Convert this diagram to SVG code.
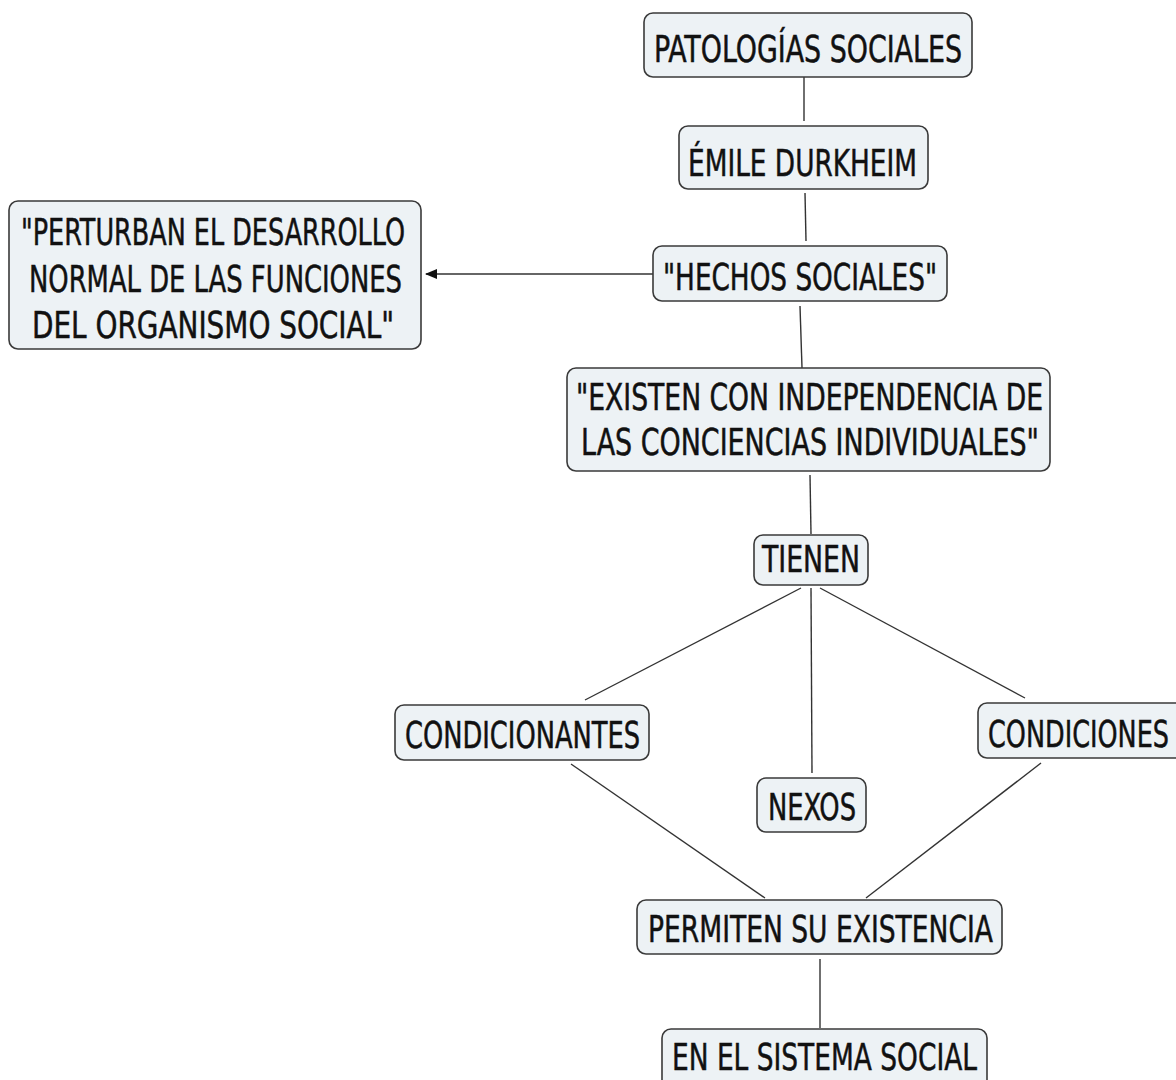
<svg xmlns="http://www.w3.org/2000/svg" width="1176" height="1080" viewBox="0 0 1176 1080">
<style>
.box{fill:#edf2f5;stroke:#3a3a3a;stroke-width:1.6}
.t{font-family:"DejaVu Sans Condensed","DejaVu Sans","Liberation Sans",sans-serif;font-size:38px;fill:#111;stroke:#111;stroke-width:0.5}
.c{stroke:#333;stroke-width:1.4;fill:none}
</style>
<defs>
<marker id="arr" viewBox="0 0 12 12" refX="11" refY="6" markerWidth="12" markerHeight="12" markerUnits="userSpaceOnUse" orient="auto">
<path d="M0,1 L12,6 L0,11 Z" fill="#111"/>
</marker>
</defs>
<rect width="1176" height="1080" fill="#fff"/>
<g id="connectors">
<line class="c" x1="804" y1="77" x2="804" y2="121"/>
<line class="c" x1="805" y1="193" x2="806" y2="241"/>
<line class="c" x1="800" y1="306" x2="802" y2="368"/>
<line class="c" x1="653" y1="274" x2="426" y2="274" marker-end="url(#arr)"/>
<line class="c" x1="810" y1="475" x2="811" y2="534"/>
<line class="c" x1="801" y1="588" x2="585" y2="700"/>
<line class="c" x1="811" y1="588" x2="812" y2="773"/>
<line class="c" x1="820" y1="588" x2="1025" y2="698"/>
<line class="c" x1="571" y1="764" x2="765" y2="898"/>
<line class="c" x1="1041" y1="763" x2="866" y2="898"/>
<line class="c" x1="820" y1="959" x2="820" y2="1028"/>
</g>
<g id="n_patologias">
<rect class="box" x="644" y="13" width="328" height="64" rx="9"/>
<text class="t" x="654" y="62" textLength="308" lengthAdjust="spacingAndGlyphs">PATOLOGÍAS SOCIALES</text>
</g>
<g id="n_durkheim">
<rect class="box" x="679" y="126" width="249" height="63" rx="9"/>
<text class="t" x="688" y="176" textLength="229" lengthAdjust="spacingAndGlyphs">ÉMILE DURKHEIM</text>
</g>
<g id="n_hechos">
<rect class="box" x="653" y="246" width="294" height="55" rx="9"/>
<text class="t" x="663" y="290" textLength="274" lengthAdjust="spacingAndGlyphs">"HECHOS SOCIALES"</text>
</g>
<g id="n_perturban">
<rect class="box" x="9" y="201" width="412" height="148" rx="9"/>
<text class="t" x="21" y="245" textLength="384" lengthAdjust="spacingAndGlyphs">"PERTURBAN EL DESARROLLO</text>
<text class="t" x="29" y="292" textLength="373" lengthAdjust="spacingAndGlyphs">NORMAL DE LAS FUNCIONES</text>
<text class="t" x="32" y="338" textLength="362" lengthAdjust="spacingAndGlyphs">DEL ORGANISMO SOCIAL"</text>
</g>
<g id="n_existen">
<rect class="box" x="567" y="368" width="483" height="103" rx="9"/>
<text class="t" x="576" y="410" textLength="467" lengthAdjust="spacingAndGlyphs">"EXISTEN CON INDEPENDENCIA DE</text>
<text class="t" x="581" y="455" textLength="458" lengthAdjust="spacingAndGlyphs">LAS CONCIENCIAS INDIVIDUALES"</text>
</g>
<g id="n_tienen">
<rect class="box" x="754" y="535" width="114" height="50" rx="9"/>
<text class="t" x="762" y="572" textLength="98" lengthAdjust="spacingAndGlyphs">TIENEN</text>
</g>
<g id="n_condicionantes">
<rect class="box" x="395" y="705" width="254" height="55" rx="9"/>
<text class="t" x="405" y="748" textLength="235" lengthAdjust="spacingAndGlyphs">CONDICIONANTES</text>
</g>
<g id="n_nexos">
<rect class="box" x="757" y="778" width="109" height="54" rx="9"/>
<text class="t" x="768" y="820" textLength="88" lengthAdjust="spacingAndGlyphs">NEXOS</text>
</g>
<g id="n_condiciones">
<rect class="box" x="978" y="703" width="212" height="55" rx="9"/>
<text class="t" x="988" y="747" textLength="181" lengthAdjust="spacingAndGlyphs">CONDICIONES</text>
</g>
<g id="n_permiten">
<rect class="box" x="637" y="900" width="365" height="54" rx="9"/>
<text class="t" x="648" y="942" textLength="345" lengthAdjust="spacingAndGlyphs">PERMITEN SU EXISTENCIA</text>
</g>
<g id="n_sistema">
<rect class="box" x="662" y="1029" width="325" height="62" rx="9"/>
<text class="t" x="672" y="1070" textLength="305" lengthAdjust="spacingAndGlyphs">EN EL SISTEMA SOCIAL</text>
</g>
</svg>
